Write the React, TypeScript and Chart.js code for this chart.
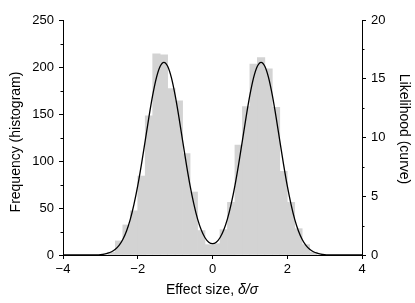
import { useEffect, useRef } from 'react';
import { Chart, registerables } from 'chart.js';

Chart.register(...registerables);

const FONT = '"Liberation Sans", Arial, Helvetica, sans-serif';

// Histogram (left axis, frequency)
const binCenters = [-2.7, -2.5, -2.3, -2.1, -1.9, -1.7, -1.5, -1.3, -1.1, -0.9, -0.7, -0.5, -0.3, -0.1,
  0.1, 0.3, 0.5, 0.7, 0.9, 1.1, 1.3, 1.5, 1.7, 1.9, 2.1, 2.3, 2.5, 2.7];
const binCounts = [3, 15, 32, 47, 84, 148, 214, 213, 177, 164, 108, 67, 26, 11,
  12, 27, 56, 117, 158, 203, 210, 198, 157, 89, 56, 28, 11, 3];

// Likelihood curve (right axis)
const curveX = [-4.0, -3.9, -3.8, -3.7, -3.6, -3.5, -3.4, -3.3, -3.2, -3.1, -3.0, -2.9, -2.8, -2.7, -2.6, -2.5,
  -2.4, -2.3, -2.2, -2.1, -2.0, -1.9, -1.8, -1.7, -1.6, -1.5, -1.4, -1.3, -1.2, -1.1, -1.0, -0.9, -0.8, -0.7,
  -0.6, -0.5, -0.4, -0.3, -0.2, -0.1, 0.0, 0.1, 0.2, 0.3, 0.4, 0.5, 0.6, 0.7, 0.8, 0.9, 1.0, 1.1, 1.2, 1.3,
  1.4, 1.5, 1.6, 1.7, 1.8, 1.9, 2.0, 2.1, 2.2, 2.3, 2.4, 2.5, 2.6, 2.7, 2.8, 2.9, 3.0, 3.1, 3.2, 3.3, 3.4,
  3.5, 3.6, 3.7, 3.8, 3.9, 4.0];
const curveY = [0, 0, 0, 0, 0, 0, 0.002, 0.004, 0.009, 0.019, 0.04, 0.08, 0.15, 0.28, 0.49, 0.82,
  1.32, 2.04, 3.03, 4.33, 5.9, 7.74, 9.74, 11.76, 13.6, 15.09, 16.06, 16.4, 16.06, 15.09, 13.6, 11.76, 9.74, 7.74,
  5.91, 4.35, 3.07, 2.12, 1.47, 1.09, 0.97, 1.09, 1.47, 2.12, 3.07, 4.35, 5.91, 7.74, 9.74, 11.76, 13.6, 15.09, 16.06, 16.4,
  16.06, 15.09, 13.6, 11.76, 9.74, 7.74, 5.9, 4.33, 3.03, 2.04, 1.32, 0.82, 0.49, 0.28, 0.15, 0.08, 0.04, 0.019, 0.009, 0.004, 0.002,
  0, 0, 0, 0, 0, 0];

const leftMinor = [25, 75, 125, 175, 225];
const rightMinor = [2.5, 7.5, 12.5, 17.5];

const xTitle = 'Effect size, ';
const xTitleItalic = 'δ/σ';
const yTitle = 'Frequency (histogram)';
const y2Title = 'Likelihood (curve)';

const extras = {
  id: 'extras',
  afterDraw(chart: any) {
    const ctx = chart.ctx as CanvasRenderingContext2D;
    const { left, right } = chart.chartArea;
    const y = chart.scales.y;
    const y2 = chart.scales.y2;
    ctx.save();
    ctx.strokeStyle = '#000';
    ctx.lineWidth = 1;
    ctx.beginPath();
    leftMinor.forEach((v) => {
      const py = Math.round(y.getPixelForValue(v)) + 0.5;
      ctx.moveTo(left - 2.5, py);
      ctx.lineTo(left, py);
    });
    rightMinor.forEach((v) => {
      const py = Math.round(y2.getPixelForValue(v)) + 0.5;
      ctx.moveTo(right, py);
      ctx.lineTo(right + 2.5, py);
    });
    ctx.stroke();

    ctx.fillStyle = '#000';
    ctx.textBaseline = 'middle';
    ctx.textAlign = 'center';
    ctx.font = `14px ${FONT}`;
    ctx.save();
    ctx.translate(16, 142);
    ctx.rotate(-Math.PI / 2);
    ctx.fillText(yTitle, 0, 0);
    ctx.restore();

    ctx.save();
    ctx.translate(404, 129);
    ctx.rotate(Math.PI / 2);
    ctx.fillText(y2Title, 0, 0);
    ctx.restore();

    ctx.textAlign = 'left';
    ctx.font = `14px ${FONT}`;
    const w1 = ctx.measureText(xTitle).width;
    ctx.font = `italic 14px ${FONT}`;
    const w2 = ctx.measureText(xTitleItalic).width;
    const startX = 212 - (w1 + w2) / 2;
    ctx.font = `14px ${FONT}`;
    ctx.fillText(xTitle, startX, 290);
    ctx.font = `italic 14px ${FONT}`;
    ctx.fillText(xTitleItalic, startX + w1, 290);
    ctx.restore();
  },
};

const tickFont = { family: FONT, size: 13 };
const gridOpts = { display: true, drawOnChartArea: false, drawTicks: true, tickLength: 4, color: '#000', offset: false };
const borderOpts = { display: true, color: '#000', width: 1 };

export default function App() {
  const ref = useRef<HTMLCanvasElement>(null);
  useEffect(() => {
    const chart = new Chart(ref.current!, {
      type: 'bar',
      data: {
        datasets: [
          {
            type: 'line',
            data: curveX.map((x, i) => ({ x, y: curveY[i] })),
            xAxisID: 'x',
            yAxisID: 'y2',
            borderColor: '#000',
            borderWidth: 1.3,
            pointRadius: 0,
            cubicInterpolationMode: 'monotone',
            order: 0,
          } as any,
          {
            type: 'bar',
            data: binCenters.map((x, i) => ({ x, y: binCounts[i] })),
            xAxisID: 'x',
            yAxisID: 'y',
            backgroundColor: '#d3d3d3',
            borderWidth: 0,
            barPercentage: 1,
            categoryPercentage: 1,
            order: 1,
          } as any,
        ],
      },
      options: {
        responsive: false,
        animation: false,
        layout: { padding: { top: 20, left: 0, right: 0, bottom: 0 } },
        plugins: { legend: { display: false }, tooltip: { enabled: false } },
        scales: {
          x: {
            type: 'linear',
            min: -4,
            max: 4,
            offset: false,
            ticks: {
              stepSize: 2,
              color: '#000',
              font: tickFont,
              padding: 3,
              maxRotation: 0,
              callback: (v: any) => (v < 0 ? '\u2212' + Math.abs(v) : String(v)),
            },
            grid: gridOpts,
            border: borderOpts,
            afterFit: (s: any) => { s.height = 48; },
          },
          y: {
            position: 'left',
            min: 0,
            max: 250,
            ticks: { stepSize: 50, color: '#000', font: tickFont, padding: 5 },
            grid: gridOpts,
            border: borderOpts,
            afterFit: (s: any) => { s.width = 63; },
          },
          y2: {
            position: 'right',
            min: 0,
            max: 20,
            ticks: { stepSize: 5, color: '#000', font: tickFont, padding: 5 },
            grid: gridOpts,
            border: borderOpts,
            afterFit: (s: any) => { s.width = 53; },
          },
        },
      } as any,
      plugins: [extras],
    });
    return () => chart.destroy();
  }, []);
  return (
    <div style={{ position: 'absolute', left: 0, top: 0, width: 415, height: 303, background: '#fff' }}>
      <canvas ref={ref} width={415} height={303} style={{ display: 'block' }} />
    </div>
  );
}
